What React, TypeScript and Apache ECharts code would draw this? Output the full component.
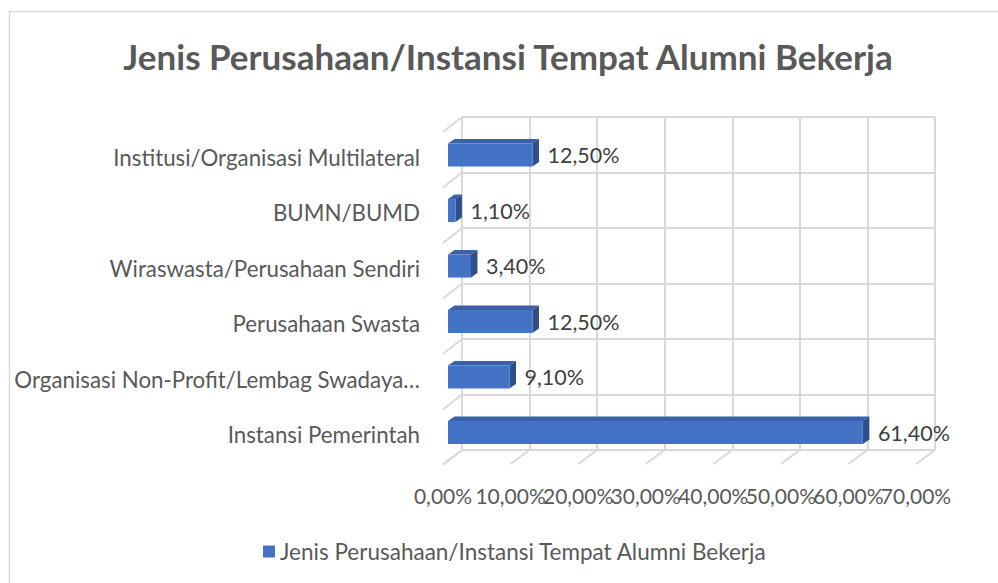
import React, { useEffect, useRef } from "react";
import * as echarts from "echarts";

const chartTitle = "Jenis Perusahaan/Instansi Tempat Alumni Bekerja";
const seriesName = "Jenis Perusahaan/Instansi Tempat Alumni Bekerja";
// bottom to top
const categories = [
  "Instansi Pemerintah",
  "Organisasi Non-Profit/Lembag Swadaya Masyarakat",
  "Perusahaan Swasta",
  "Wiraswasta/Perusahaan Sendiri",
  "BUMN/BUMD",
  "Institusi/Organisasi Multilateral",
];
const values = [61.4, 9.1, 12.5, 3.4, 1.1, 12.5];
const xTicks = [0, 10, 20, 30, 40, 50, 60, 70];

const FONT = "Lato, 'Noto Sans', sans-serif";
const GRID = "#d9d9d9";
const DEPTH_X = -19;
const DEPTH_Y = 14;

const fmt = (v: number) => v.toFixed(2).replace(".", ",") + "%";

export default function App() {
  const ref = useRef<HTMLDivElement>(null);
  useEffect(() => {
    if (!ref.current) return;
    const chart = echarts.init(ref.current, undefined, { renderer: "svg" });
    const option: any = {
      animation: false,
      backgroundColor: "#ffffff",
      graphic: [
        {
          type: "rect",
          shape: { x: 9.5, y: 11.5, width: 1100, height: 700 },
          style: { fill: "none", stroke: GRID, lineWidth: 1.5 },
          silent: true,
          z: -10,
        },
        {
          type: "text",
          x: 508,
          y: 56,
          style: {
            text: chartTitle,
            font: `bold 35px ${FONT}`,
            fill: "#595959",
            textAlign: "center",
            textVerticalAlign: "middle",
          },
        },
      ],
      legend: {
        data: [seriesName],
        left: 258,
        top: 535,
        icon: "rect",
        itemWidth: 12,
        itemHeight: 12,
        textStyle: { fontFamily: FONT, fontSize: 22.5, color: "#595959" },
      },
      grid: { left: 462, right: 63, top: 117, bottom: 133, containLabel: false },
      xAxis: {
        type: "value",
        min: 0,
        max: 70,
        interval: 10,
        axisLine: { show: false },
        axisTick: { show: false },
        splitLine: { show: true, lineStyle: { color: GRID, width: 2 } },
        axisLabel: { show: false },
      },
      yAxis: {
        type: "category",
        data: categories,
        axisLine: { show: false },
        axisTick: { show: false },
        splitLine: { show: true, lineStyle: { color: GRID, width: 2 } },
        axisLabel: {
          formatter: (v: string) => (v.length > 40 ? v.slice(0, 36) + "…" : v),
          fontFamily: FONT,
          fontSize: 22.3,
          color: "#595959",
          margin: 42,
          verticalAlign: "top",
          lineHeight: 25,
        },
      },
      series: [
        {
          type: "custom",
          silent: true,
          data: xTicks.map((t) => [t, 0]),
          z: 1,
          renderItem: (params: any, api: any) => {
            const cs = params.coordSys;
            const t = api.value(0);
            const p = api.coord([t, 0]);
            const yb = cs.y + cs.height;
            return {
              type: "group",
              children: [
                {
                  type: "line",
                  shape: { x1: p[0], y1: yb, x2: p[0] + DEPTH_X, y2: yb + DEPTH_Y },
                  style: { stroke: GRID, lineWidth: 2 },
                },
                {
                  type: "text",
                  x: p[0] + DEPTH_X,
                  y: yb + 45,
                  style: {
                    text: fmt(t),
                    font: `21px ${FONT}`,
                    fill: "#595959",
                    textAlign: "center",
                    textVerticalAlign: "middle",
                  },
                },
              ],
            };
          },
        },
        {
          type: "custom",
          silent: true,
          data: [0, 1, 2, 3, 4, 5, 6].map((k) => [0, k]),
          z: 1,
          renderItem: (params: any, api: any) => {
            const cs = params.coordSys;
            const k = api.value(1);
            const y = cs.y + (k * cs.height) / categories.length;
            return {
              type: "line",
              shape: { x1: cs.x, y1: y, x2: cs.x + DEPTH_X, y2: y + DEPTH_Y + 1 },
              style: { stroke: GRID, lineWidth: 2 },
            };
          },
        },
        {
          name: seriesName,
          type: "custom",
          itemStyle: { color: "#4472c4" },
          data: values.map((v, i) => [v, i]),
          z: 5,
          renderItem: (params: any, api: any) => {
            const v = api.value(0);
            const ci = api.value(1);
            const p0 = api.coord([0, ci]);
            const p1 = api.coord([v, ci]);
            const band = api.size([0, 1])[1];
            const h = band * 0.415;
            const fx = -14;
            const fy = 10.3;
            const dx = 6.5;
            const dy = -4.5;
            const x0 = p0[0] + fx;
            const x1 = p1[0] + fx;
            const yc = p0[1] + fy;
            const yt = yc - h / 2;
            const yb = yc + h / 2;
            return {
              type: "group",
              children: [
                {
                  type: "polygon",
                  shape: { points: [[x0, yt], [x1, yt], [x1 + dx, yt + dy], [x0 + dx, yt + dy]] },
                  style: { fill: "#3a62ab" },
                },
                {
                  type: "polygon",
                  shape: { points: [[x1, yt], [x1 + dx, yt + dy], [x1 + dx, yb + dy], [x1, yb]] },
                  style: { fill: "#2e4f8c" },
                },
                {
                  type: "rect",
                  shape: { x: x0, y: yt, width: x1 - x0, height: h },
                  style: { fill: "#4472c4" },
                },
                {
                  type: "text",
                  x: x1 + 15,
                  y: yc,
                  style: {
                    text: fmt(v),
                    font: `21.5px ${FONT}`,
                    fill: "#404040",
                    textAlign: "left",
                    textVerticalAlign: "middle",
                  },
                },
              ],
            };
          },
        },
      ],
    };
    chart.setOption(option);
    return () => chart.dispose();
  }, []);
  return (
    <div
      ref={ref}
      style={{ position: "fixed", left: 0, top: 0, width: 998, height: 583 }}
    />
  );
}
